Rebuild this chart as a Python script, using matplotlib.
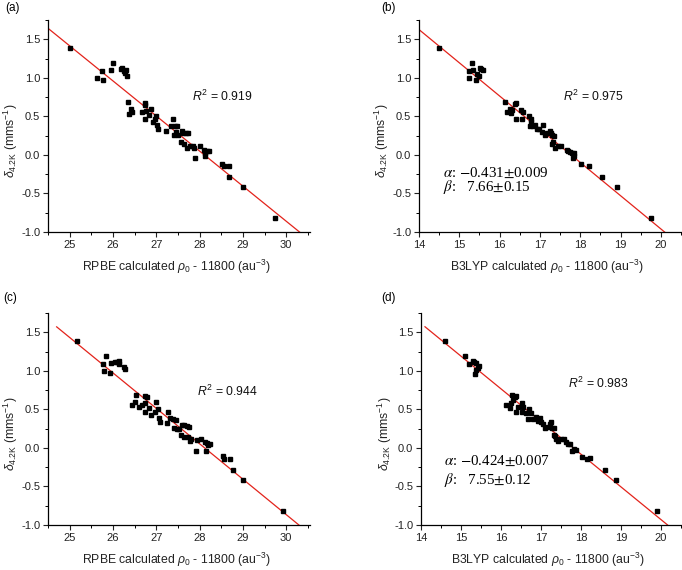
import numpy as np
import matplotlib
matplotlib.use("Agg")
import matplotlib.pyplot as plt
from matplotlib.ticker import MultipleLocator

plt.rcParams['font.family'] = ['Liberation Sans', 'DejaVu Sans']
plt.rcParams['mathtext.fontset'] = 'custom'
plt.rcParams['mathtext.rm'] = 'Liberation Sans'
plt.rcParams['mathtext.it'] = 'Liberation Sans:italic'
plt.rcParams['axes.unicode_minus'] = False

# (a) RPBE
xa = [25.00, 25.64, 25.75, 25.77, 25.96, 25.99, 26.18, 26.22, 26.25, 26.27, 26.29, 26.33,
      26.34, 26.37, 26.42, 26.45, 26.67, 26.73, 26.74, 26.73, 26.77, 26.84, 26.87, 26.92,
      26.96, 26.99, 27.02, 27.04, 27.23, 27.33, 27.38, 27.40, 27.43, 27.47, 27.45, 27.50,
      27.56, 27.60, 27.62, 27.65, 27.68, 27.71, 27.73, 27.79, 27.85, 27.88, 27.90, 28.00,
      28.11, 28.12, 28.13, 28.17, 28.21, 28.52, 28.56, 28.69, 28.67, 29.00, 29.75]
ya = [1.39, 1.00, 1.09, 0.97, 1.10, 1.19, 1.11, 1.13, 1.09, 1.06, 1.10, 1.03,
      0.69, 0.53, 0.59, 0.56, 0.56, 0.67, 0.65, 0.46, 0.57, 0.52, 0.59, 0.43,
      0.47, 0.51, 0.39, 0.33, 0.31, 0.37, 0.47, 0.26, 0.38, 0.37, 0.30, 0.26,
      0.17, 0.31, 0.29, 0.14, 0.29, 0.09, 0.28, 0.12, 0.12, 0.09, -0.04, 0.11,
      0.06, -0.02, 0.03, 0.05, 0.05, -0.12, -0.15, -0.14, -0.29, -0.42, -0.82]

# (b) B3LYP
xb = [14.49, 15.24, 15.23, 15.32, 15.33, 15.41, 15.44, 15.49, 15.51, 15.53, 15.59,
      16.14, 16.18, 16.26, 16.29, 16.31, 16.38, 16.40, 16.41, 16.54, 16.55, 16.57,
      16.73, 16.75, 16.77, 16.79, 16.83, 16.87, 16.92, 16.97, 17.04, 17.07, 17.12,
      17.18, 17.24, 17.28, 17.29, 17.31, 17.33, 17.36, 17.37, 17.44, 17.52, 17.66,
      17.70, 17.74, 17.79, 17.81, 17.85, 17.84, 18.03, 18.22, 18.55, 18.90, 19.76]
yb = [1.39, 1.00, 1.09, 1.19, 1.10, 0.97, 1.05, 1.03, 1.13, 1.11, 1.10,
      0.69, 0.56, 0.59, 0.54, 0.58, 0.66, 0.67, 0.46, 0.58, 0.46, 0.56,
      0.50, 0.38, 0.43, 0.47, 0.37, 0.39, 0.33, 0.34, 0.30, 0.39, 0.26,
      0.28, 0.31, 0.29, 0.26, 0.14, 0.17, 0.25, 0.09, 0.11, 0.12, 0.06,
      0.05, 0.04, 0.02, -0.04, -0.02, 0.03, -0.12, -0.14, -0.29, -0.42, -0.82]

# (c) RPBE
xc = [25.18, 25.76, 25.79, 25.84, 25.94, 25.96, 26.04, 26.10, 26.13, 26.14, 26.25, 26.28,
      26.45, 26.50, 26.54, 26.61, 26.67, 26.73, 26.74, 26.75, 26.79, 26.83, 26.88, 26.96,
      27.00, 27.03, 27.07, 27.09, 27.25, 27.27, 27.32, 27.38, 27.40, 27.45, 27.47, 27.52,
      27.58, 27.60, 27.63, 27.65, 27.70, 27.73, 27.75, 27.79, 27.80, 27.91, 27.93, 28.04,
      28.12, 28.15, 28.17, 28.20, 28.23, 28.54, 28.56, 28.71, 28.77, 29.00, 29.92]
yc = [1.39, 1.09, 1.00, 1.19, 0.97, 1.10, 1.11, 1.12, 1.13, 1.09, 1.05, 1.03,
      0.56, 0.60, 0.69, 0.53, 0.56, 0.58, 0.67, 0.47, 0.66, 0.52, 0.43, 0.47,
      0.60, 0.50, 0.39, 0.33, 0.32, 0.47, 0.39, 0.37, 0.26, 0.36, 0.25, 0.25,
      0.17, 0.30, 0.14, 0.30, 0.29, 0.14, 0.27, 0.09, 0.11, -0.04, 0.10, 0.11,
      0.08, -0.04, 0.06, 0.04, 0.05, -0.11, -0.15, -0.14, -0.29, -0.42, -0.82]

# (d) B3LYP
xd = [14.61, 15.11, 15.19, 15.31, 15.33, 15.36, 15.37, 15.38, 15.42, 15.44,
      16.12, 16.23, 16.25, 16.27, 16.29, 16.34, 16.37, 16.38, 16.43, 16.53,
      16.53, 16.54, 16.63, 16.68, 16.71, 16.75, 16.80, 16.88, 16.92, 16.97,
      17.00, 17.04, 17.10, 17.17, 17.23, 17.25, 17.28, 17.33, 17.33, 17.35,
      17.38, 17.42, 17.50, 17.57, 17.63, 17.68, 17.72, 17.78, 17.83, 17.88,
      18.03, 18.15, 18.23, 18.60, 18.88, 19.89]
yd = [1.39, 1.19, 1.09, 1.13, 1.11, 0.96, 1.01, 1.10, 1.04, 1.06,
      0.56, 0.52, 0.58, 0.69, 0.62, 0.66, 0.67, 0.47, 0.53, 0.58,
      0.47, 0.53, 0.45, 0.38, 0.50, 0.45, 0.37, 0.40, 0.35, 0.39,
      0.34, 0.31, 0.26, 0.27, 0.31, 0.33, 0.26, 0.26, 0.17, 0.15,
      0.12, 0.09, 0.11, 0.11, 0.08, 0.05, 0.05, -0.04, -0.02, -0.03,
      -0.12, -0.14, -0.13, -0.29, -0.42, -0.82]

# linear fits: slope, intercept, x where the drawn line starts
slopes = [-0.455, -0.431, -0.4595, -0.424]
intercepts = [12.79, 7.66, 12.92, 7.55]
line_start = [24.5, 14.0, 24.7, 14.1]
r2 = ['0.919', '0.975', '0.944', '0.983']
alpha_txt = [None, r'$-$0.431$\pm$0.009', None, r'$-$0.424$\pm$0.007']
beta_txt = [None, '7.66$\\pm$0.15', None, '7.55$\\pm$0.12']
panel_labels = ['(a)', '(b)', '(c)', '(d)']
xlabels = [r'RPBE calculated $\rho_0$ - 11800 (au$^{-3}$)',
           r'B3LYP calculated $\rho_0$ - 11800 (au$^{-3}$)'] * 2
xlims = [(24.5, 30.55), (14, 20.5), (24.5, 30.55), (14, 20.5)]
xticks = [[25, 26, 27, 28, 29, 30], [14, 15, 16, 17, 18, 19, 20]] * 2

W, H = 682, 570
fig = plt.figure(figsize=(W / 100, H / 100), dpi=100)

# axes boxes in pixels: left, right, top, bottom
boxes = [(48, 310, 20, 232), (419, 681, 20, 232),
         (48, 310, 313, 525), (421, 681, 313, 525)]
r2_pos = [(0.55, 0.64), (0.55, 0.64), (0.57, 0.63), (0.565, 0.67)]
ab_pos = [None, (0.09, 0.28, 0.21), None, (0.09, 0.30, 0.21)]
label_pos = [(5, 8), (381, 8), (3, 298), (381, 298)]

data = [(xa, ya), (xb, yb), (xc, yc), (xd, yd)]

for i, (x, y) in enumerate(data):
    l, r, t, b = boxes[i]
    ax = fig.add_axes([l / W, 1 - b / H, (r - l) / W, (b - t) / H])
    ax.plot(x, y, 's', color='black', markersize=3, zorder=3)
    x0 = line_start[i]
    x1 = (-1.0 - intercepts[i]) / slopes[i]
    xs = np.array([x0, x1])
    ax.plot(xs, slopes[i] * xs + intercepts[i], '-', color='#e3231b', lw=0.9, zorder=2)

    ax.set_xlim(*xlims[i])
    ax.set_ylim(-1.0, 1.75)
    ax.set_xticks(xticks[i])
    ax.set_yticks([-1.0, -0.5, 0.0, 0.5, 1.0, 1.5])
    ax.set_yticklabels(['-1.0', '-0.5', '0.0', '0.5', '1.0', '1.5'])
    ax.xaxis.set_minor_locator(MultipleLocator(0.5))
    ax.yaxis.set_minor_locator(MultipleLocator(0.25))
    for s in ['top', 'right']:
        ax.spines[s].set_visible(False)
    for s in ['left', 'bottom']:
        ax.spines[s].set_linewidth(0.9)
    ax.tick_params(which='major', direction='out', length=3.5, width=0.8,
                   labelsize=8, colors='#222222', pad=2)
    ax.tick_params(which='minor', direction='out', length=2, width=0.7)

    ax.set_xlabel(xlabels[i], fontsize=8.8, color='#222222', va='center')
    ax.xaxis.set_label_coords(0.49, -0.165)
    ax.set_ylabel(r'$\delta_{4.2\mathrm{K}}$ (mms$^{-1}$)', fontsize=8.8,
                  color='#222222', va='center')
    ax.yaxis.set_label_coords(-0.14, 0.43)

    ax.text(r2_pos[i][0], r2_pos[i][1], r'$R^2$ = ' + r2[i], transform=ax.transAxes,
            fontsize=8.8, va='center', ha='left', color='#111111')
    if ab_pos[i] is not None:
        ax_, ya_, yb_ = ab_pos[i]
        ax.text(ax_, ya_, r'$\alpha$: ' + alpha_txt[i], transform=ax.transAxes,
                fontsize=10.8, family='Liberation Serif', va='center', ha='left',
                math_fontfamily='stix')
        ax.text(ax_, yb_, r'$\beta$:   ' + beta_txt[i], transform=ax.transAxes,
                fontsize=10.8, family='Liberation Serif', va='center', ha='left',
                math_fontfamily='stix')

    fig.text(label_pos[i][0] / W, 1 - label_pos[i][1] / H, panel_labels[i],
             fontsize=8.5, va='center', ha='left')

fig.savefig('out.png', dpi=100)
